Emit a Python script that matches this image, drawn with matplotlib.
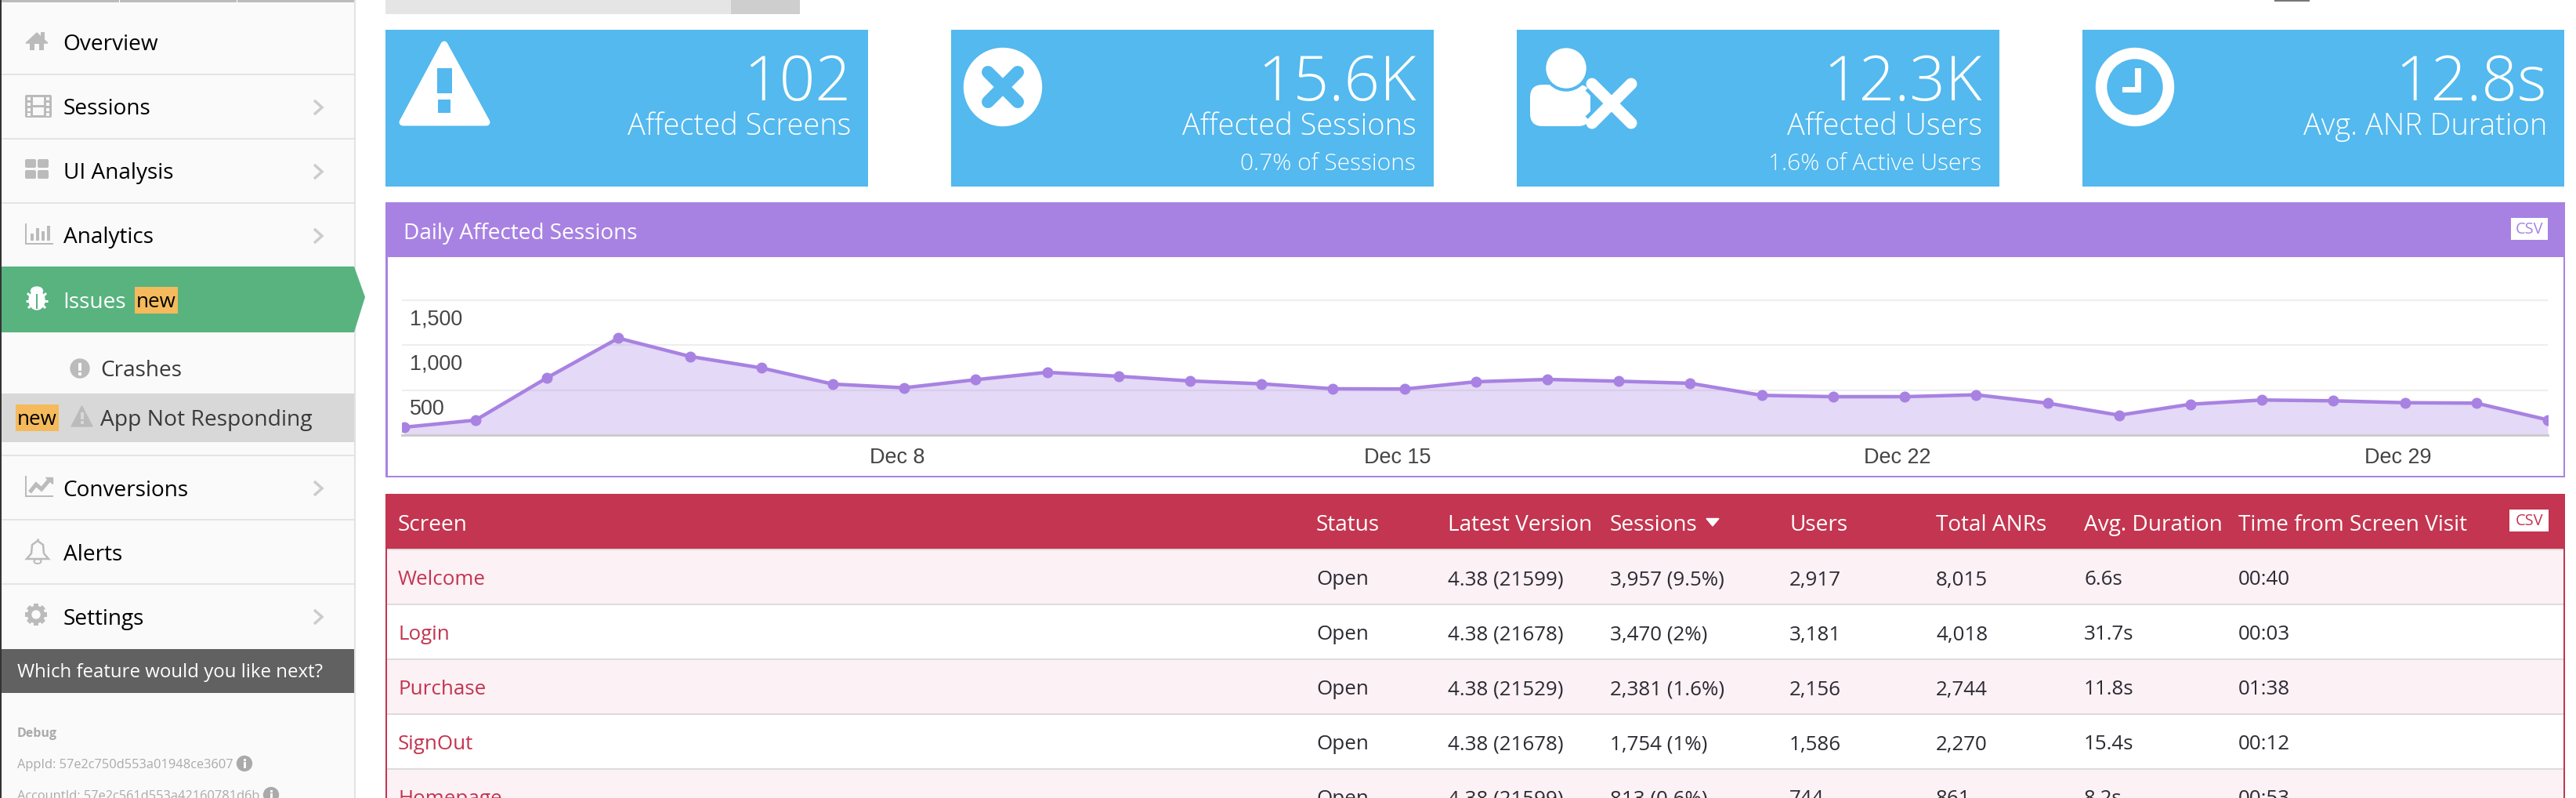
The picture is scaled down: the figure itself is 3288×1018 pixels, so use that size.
import numpy as np
import matplotlib
matplotlib.use("Agg")
import matplotlib.pyplot as plt
from matplotlib.patches import Rectangle, Circle, Ellipse, Polygon, FancyBboxPatch
from matplotlib.transforms import ScaledTranslation

# ---------- data ----------
days = list(range(1, 32))
daily_sessions = [87, 166, 637, 1078, 875, 747, 567, 526, 616, 698, 654, 602, 570, 515, 512, 593,
                  619, 599, 576, 442, 427, 427, 448, 355, 221, 343, 390, 381, 360, 355, 169]
x_tick_days = [8, 15, 22, 29]
x_tick_labels = ["Dec 8", "Dec 15", "Dec 22", "Dec 29"]
y_ticks = [500, 1000, 1500]
y_tick_labels = ["500", "1,000", "1,500"]

kpi_values = ["102", "15.6K", "12.3K", "12.8s"]
kpi_labels = ["Affected Screens", "Affected Sessions", "Affected Users", "Avg. ANR Duration"]
kpi_subs = ["", "0.7% of Sessions", "1.6% of Active Users", ""]

table_headers = ["Screen", "Status", "Latest Version", "Sessions", "Users", "Total ANRs", "Avg. Duration",
                 "Time from Screen Visit"]
screens = ["Welcome", "Login", "Purchase", "SignOut", "Homepage"]
statuses = ["Open", "Open", "Open", "Open", "Open"]
versions = ["4.38 (21599)", "4.38 (21678)", "4.38 (21529)", "4.38 (21678)", "4.38 (21599)"]
sessions = ["3,957 (9.5%)", "3,470 (2%)", "2,381 (1.6%)", "1,754 (1%)", "813 (0.6%)"]
users = ["2,917", "3,181", "2,156", "1,586", "744"]
total_anrs = ["8,015", "4,018", "2,744", "2,270", "861"]
avg_durations = ["6.6s", "31.7s", "11.8s", "15.4s", "8.2s"]
times = ["00:40", "00:03", "01:38", "00:12", "00:53"]

menu_items = ["Overview", "Sessions", "UI Analysis", "Analytics", "Issues", "Conversions", "Alerts", "Settings"]

# ---------- style ----------
W, H, DPI = 3288, 1018, 100
FONT = "Open Sans"
ARIAL = "Liberation Sans"
BLUE = "#53B9EE"
PURPLE = "#A882E2"
CRIMSON = "#C33550"
GREEN = "#58B37F"
ORANGE = "#F5BA5C"
SIDE = "#FAFAFA"
SEP = "#E4E4E4"
ICON = "#BBBBBB"
PINK = "#FCF1F5"
INK = "#2B2B33"
px = 0.72  # points per pixel at this dpi

fig = plt.figure(figsize=(W / DPI, H / DPI), dpi=DPI, facecolor="white")
bg = fig.add_axes([0, 0, 1, 1], zorder=0)
bg.set_xlim(0, W)
bg.set_ylim(H, 0)
bg.axis("off")


def T(x, y, s, size, color="black", ha="left", va="center", weight="normal", family=FONT, z=5):
    return bg.text(x, y, s, fontsize=size * px, color=color, ha=ha, va=va, weight=weight, family=family, zorder=z)


def R(x0, y0, x1, y1, color, z=1):
    bg.add_patch(Rectangle((x0, y0), x1 - x0, y1 - y0, facecolor=color, edgecolor="none", zorder=z))


def RR(x0, y0, x1, y1, color, rad=3, z=3):
    bg.add_patch(FancyBboxPatch((x0 + rad, y0 + rad), x1 - x0 - 2 * rad, y1 - y0 - 2 * rad,
                                boxstyle=f"round,pad={rad},rounding_size={rad}",
                                facecolor=color, edgecolor="none", zorder=z))


def L(xs, ys, color, lw, cap="butt", z=3, join="miter"):
    bg.plot(xs, ys, color=color, lw=lw * px, solid_capstyle=cap, solid_joinstyle=join, zorder=z)


# ---------- sidebar ----------
R(0, 0, 2, H, "#333333", 2)
R(2, 0, 452, H, SIDE)
R(452, 0, 454, H, "#E2E2E2", 2)
R(2, 0, 452, 3, "#BBBBBB", 2)
R(152, 0, 153, 3, "white", 3)
R(302, 0, 303, 3, "white", 3)
for y in [95, 177, 259, 581, 663, 745]:
    R(2, y - 1, 452, y + 1, SEP, 2)
bg.add_patch(Polygon([(2, 340), (452, 340), (466, 379), (452, 424), (2, 424)], facecolor=GREEN, edgecolor="none", zorder=2))
R(2, 502, 452, 564, "#D8D8D8", 2)
R(2, 828, 452, 884, "#616161", 2)

menu_y = [57, 139, 221, 303, 386, 626, 708, 790]
for name, y in zip(menu_items, menu_y):
    T(80.5, y, name, 28, "white" if name == "Issues" else "black")
T(128, 473, "Crashes", 28, "#3A3A3A")
T(128, 536, "App Not Responding", 28.3, "#3A3A3A")
R(172, 366, 227, 400, ORANGE, 3)
T(199.5, 386, "new", 26, "black", ha="center")
R(20, 516, 75, 550, ORANGE, 3)
T(47.5, 536, "new", 26, "black", ha="center")
T(22, 858, "Which feature would you like next?", 24, "white")
T(22, 936, "Debug", 16, "#AAAAAA", weight="bold")
T(22, 976, "AppId: 57e2c750d553a01948ce3607", 16.4, "#AAAAAA")
T(22, 1016, "AccountId: 57e2c561d553a42160781d6b", 16.4, "#AAAAAA")
for cx, cy in [(312, 974), (346, 1014)]:
    bg.add_patch(Circle((cx, cy), 9.5, color="#AAAAAA", zorder=3))
    R(cx - 1.5, cy - 2, cx + 1.5, cy + 6, SIDE, 4)
    R(cx - 1.5, cy - 6, cx + 1.5, cy - 3.5, SIDE, 4)
for y in [137, 219, 301, 623, 787]:
    L([401, 411, 401], [y - 9, y, y + 9], "#CCCCCC", 3.5, join="miter")

# home
bg.add_patch(Polygon([(33, 55), (47, 42), (61, 55)], color=ICON, zorder=3))
R(38, 54, 56, 64, ICON, 3)
R(44, 56, 50, 64, SIDE, 4)
R(52, 41, 57, 50, ICON, 3)
# film
RR(32, 121, 66, 150, ICON, 2)
R(42, 124, 56, 134, SIDE, 4)
R(42, 137, 56, 147, SIDE, 4)
for yy in [124, 131, 138, 144]:
    R(35, yy, 39, yy + 4, SIDE, 4)
    R(59, yy, 63, yy + 4, SIDE, 4)
# grid
for x0 in [32, 48]:
    for y0 in [203, 217]:
        RR(x0, y0, x0 + 14, y0 + 11, ICON, 2)
# analytics
R(32, 285, 34, 312, ICON, 3)
R(32, 310, 68, 312, ICON, 3)
for x0, top in [(39, 298), (46, 291), (53, 295), (60, 288)]:
    R(x0, top, x0 + 4, 307, ICON, 3)
# bug
bg.add_patch(Ellipse((47, 383), 20, 24, color="white", zorder=3))
bg.add_patch(Ellipse((47, 371), 15, 10, color="white", zorder=3))
R(46, 375, 48, 394, GREEN, 4)
for a, b, c, d in [(35, 374, 40, 379), (59, 374, 54, 379), (33, 384, 40, 384), (61, 384, 54, 384),
                   (36, 393, 41, 388), (58, 393, 53, 388)]:
    L([a, c], [b, d], "white", 3)
# crashes
bg.add_patch(Circle((102, 470), 12, color=ICON, zorder=3))
R(100, 463, 104, 473, SIDE, 4)
R(100, 475, 104, 479, SIDE, 4)
# warning small
bg.add_patch(Polygon([(104.5, 518), (118, 544), (91, 544)], color=ICON, zorder=3))
R(102.5, 526, 106.5, 535, "#D8D8D8", 4)
R(102.5, 537, 106.5, 541, "#D8D8D8", 4)
# conversions
R(32, 607, 34, 634, ICON, 3)
R(32, 632, 68, 634, ICON, 3)
L([38, 46, 53, 64], [628, 618, 624, 611], ICON, 5)
bg.add_patch(Polygon([(58, 609), (67, 609), (67, 617)], color=ICON, zorder=3))
# bell
bg.add_patch(Polygon([(34, 713), (40, 706), (41, 695), (48, 690), (55, 695), (56, 706), (62, 713)],
                     facecolor="none", edgecolor=ICON, lw=2.5 * px, zorder=3))
L([48, 48], [687, 690], ICON, 3)
bg.add_patch(Ellipse((48, 716), 9, 6, facecolor="none", edgecolor=ICON, lw=2 * px, zorder=3))
# gear
for ang in np.arange(0, 180, 45):
    dx, dy = 14 * np.cos(np.radians(ang)), 14 * np.sin(np.radians(ang))
    L([46 - dx, 46 + dx], [784 - dy, 784 + dy], ICON, 6)
bg.add_patch(Circle((46, 784), 10.5, color=ICON, zorder=3))
bg.add_patch(Circle((46, 784), 5, color=SIDE, zorder=4))

# ---------- top strip ----------
R(492, 0, 933, 18, "#E5E5E5")
R(933, 0, 1021, 18, "#CECECE")
R(2903, 0, 2948, 1.5, "#777777")

# ---------- KPI cards ----------
cards = [(492, 1108), (1214, 1830), (1936, 2552), (2658, 3273)]
for (x0, x1), v, lab, sub in zip(cards, kpi_values, kpi_labels, kpi_subs):
    R(x0, 38, x1, 238, BLUE)
    T(x1 - 22, 128, v, 80, "white", ha="right", va="baseline", weight="light")
    T(x1 - 22, 172, lab, 38, "white", ha="right", va="baseline", weight="light")
    if sub:
        T(x1 - 23, 217, sub, 30, "white", ha="right", va="baseline", weight="light")

# warning icon
bg.add_patch(Polygon([(567, 57), (621, 156), (514, 156)], facecolor="white", edgecolor="white",
                     lw=9 * px, joinstyle="round", zorder=3))
R(558, 87, 577, 119, BLUE, 4)
R(559, 127, 575, 144, BLUE, 4)
# x-circle icon
bg.add_patch(Circle((1280, 111), 49.5, color="white", zorder=3))
for s in [1, -1]:
    L([1280 - 19, 1280 + 19], [111 - 19 * s, 111 + 19 * s], BLUE, 16, cap="round", z=4)
# user-x icon
RR(1953, 108, 2030, 161, "white", rad=16)
bg.add_patch(Circle((1999, 87), 29, color=BLUE, zorder=3.5))
bg.add_patch(Circle((1999, 87), 25, color="white", zorder=4))
for s in [1, -1]:
    L([2057 - 25, 2057 + 25], [132 - 25 * s, 132 + 25 * s], BLUE, 24, z=4)
for s in [1, -1]:
    L([2057 - 25, 2057 + 25], [132 - 25 * s, 132 + 25 * s], "white", 15, cap="round", z=4.5)
# clock icon
bg.add_patch(Circle((2725, 111), 49.5, color="white", zorder=3))
bg.add_patch(Circle((2725, 111), 35, color=BLUE, zorder=4))
R(2725, 87, 2733, 118, "white", 5)
R(2709, 111, 2733, 118, "white", 5)

# ---------- chart panel ----------
R(492, 258, 3274, 609, PURPLE)
R(495, 328, 3272, 607, "white", 2)
R(492, 258, 3274, 328, PURPLE, 2)
T(515, 298, "Daily Affected Sessions", 28, "white")
R(3205, 278, 3252, 306, "white", 3)
T(3228.5, 293, "CSV", 20, PURPLE, ha="center")

PX_PER_UNIT = 57.33 / 500
PLOT_L, PLOT_R, PLOT_B = 513, 3252, 555
YMAX = 1510
PLOT_T = PLOT_B - YMAX * PX_PER_UNIT
ax = fig.add_axes([PLOT_L / W, 1 - PLOT_B / H, (PLOT_R - PLOT_L) / W, (PLOT_B - PLOT_T) / H], zorder=2)
ax.patch.set_alpha(0)
tz_shift = 0.1  # points sit slightly right of the date ticks
xvals = np.array(days) + tz_shift
ax.fill_between(xvals, daily_sessions, 0, color=PURPLE, alpha=0.3, lw=0, zorder=2)
ax.plot(xvals, daily_sessions, color=PURPLE, lw=4.5 * px, marker="o", ms=14 * px, mew=0, zorder=3)
ax.set_xlim(1.07, 31.1)
ax.set_ylim(0, YMAX)
ax.set_xticks(x_tick_days, labels=x_tick_labels)
ax.set_yticks(y_ticks, labels=y_tick_labels)
ax.grid(axis="y", color="#EEEEEE", lw=2.2 * px, zorder=1)
ax.set_axisbelow(True)
for s in ["top", "left", "right"]:
    ax.spines[s].set_visible(False)
ax.spines["bottom"].set_color("#CCCCCC")
ax.spines["bottom"].set_linewidth(3 * px)
ax.tick_params(axis="x", length=0, pad=16 * px, labelsize=27 * px, labelcolor="#444444")
ax.tick_params(axis="y", length=0, pad=-10 * px, labelsize=27 * px, labelcolor="#444444")
for lab in ax.get_xticklabels() + ax.get_yticklabels():
    lab.set_family(ARIAL)
offset = ScaledTranslation(0, -24 / DPI, fig.dpi_scale_trans)
for lab in ax.get_yticklabels():
    lab.set_ha("left")
    lab.set_va("center")
    lab.set_transform(lab.get_transform() + offset)

# ---------- table ----------
R(492, 630, 3274, 700, CRIMSON, 1)
R(492, 700, 494, H, CRIMSON, 3)
R(3272, 700, 3274, H, CRIMSON, 3)
row_tops = [702, 772, 842, 912, 982]
for i, top in enumerate(row_tops):
    if i % 2 == 0:
        R(494, top, 3272, top + 68, PINK, 1)
    R(494, top - 2, 3272, top, "#DDDBDD", 2)

col_x = [508, 1680, 1848, 2055, 2284, 2471, 2660, 2857]
for x, h in zip(col_x, table_headers):
    T(x, 670, h, 28, "white")
bg.add_patch(Polygon([(2178, 661.5), (2194, 661.5), (2186, 671)], color="white", zorder=4))
R(3203, 650, 3253, 678, "white", 3)
T(3228, 665, "CSV", 20, CRIMSON, ha="center")

columns = [screens, statuses, versions, sessions, users, total_anrs, avg_durations, times]
for c, (x, col) in enumerate(zip(col_x, columns)):
    for r, val in enumerate(col):
        T(x, 740 + 70 * r, val, 26, CRIMSON if c == 0 else INK)

fig.savefig("out.png", dpi=DPI, facecolor="white")
